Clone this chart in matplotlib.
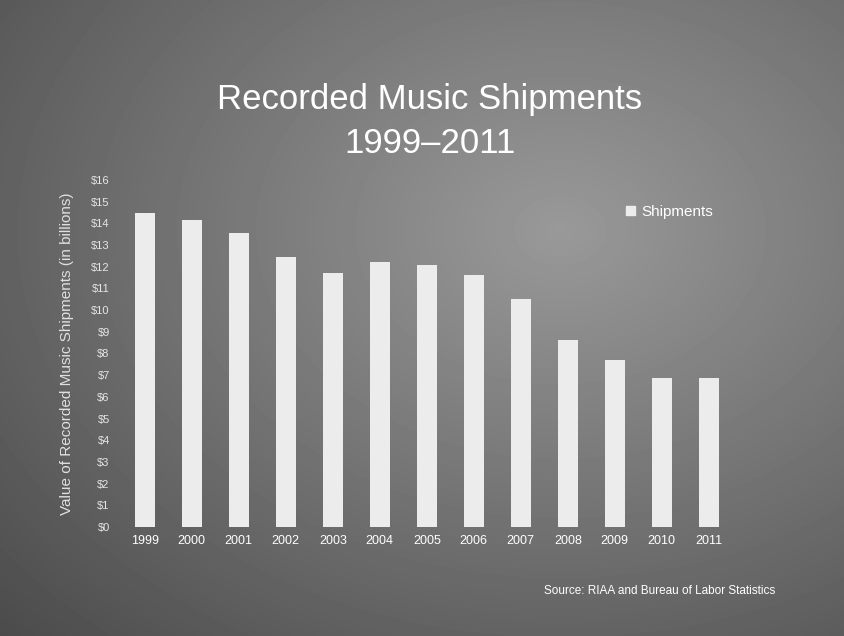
import numpy as np
import matplotlib
matplotlib.use("Agg")
import matplotlib.pyplot as plt
from matplotlib.patches import Patch

plt.rcParams['font.family'] = ['Liberation Sans', 'DejaVu Sans']

years = ['1999', '2000', '2001', '2002', '2003', '2004', '2005',
         '2006', '2007', '2008', '2009', '2010', '2011']
shipments = [14.5, 14.15, 13.55, 12.45, 11.7, 12.2, 12.1,
             11.6, 10.5, 8.6, 7.7, 6.85, 6.85]
y_ticks = list(range(0, 17))
y_tick_labels = [f'${v}' for v in y_ticks]

W, H = 844, 636
fig = plt.figure(figsize=(W / 100, H / 100), dpi=100)

# gray slide background with a soft light spot
bg = fig.add_axes([0, 0, 1, 1])
yy, xx = np.mgrid[0:H, 0:W]
d = np.sqrt(((xx - 560) / 560.0) ** 2 + ((yy - 230) / 420.0) ** 2)
shade = 0.60 - 0.22 * np.clip(d, 0, 1.4)
bg.imshow(shade, cmap='gray', vmin=0, vmax=1, aspect='auto',
          extent=[0, W, H, 0], interpolation='bilinear')
bg.set_xlim(0, W)
bg.set_ylim(H, 0)
bg.axis('off')

ax = fig.add_axes([118 / W, (H - 527) / H, (737 - 118) / W, 347 / H])
ax.patch.set_alpha(0)
x = np.arange(len(years))
ax.bar(x, shipments, width=0.43, color='#ececec', edgecolor='none',
       label='Shipments')
ax.set_xlim(-0.57, 12.6)
ax.set_ylim(0, 16)
ax.set_xticks(x)
ax.set_xticklabels(years, color='white', fontsize=9)
ax.set_yticks(y_ticks)
ax.set_yticklabels(y_tick_labels, color='#e6e6e6', fontsize=8)
ax.tick_params(length=0, pad=6)
for s in ax.spines.values():
    s.set_visible(False)
ax.set_ylabel('Value of Recorded Music Shipments (in billions)',
              color='#e0e0e0', fontsize=11, labelpad=12)

fig.text(430 / W, 1 - 100 / H, 'Recorded Music Shipments', color='white',
         fontsize=25, ha='center', va='center')
fig.text(430 / W, 1 - 144 / H, '1999\u20132011', color='white',
         fontsize=25, ha='center', va='center')

fig.legend(handles=[Patch(color='#ececec', label='Shipments')],
           loc='center left', bbox_to_anchor=(612 / W, 1 - 212 / H),
           frameon=False, fontsize=11, labelcolor='white',
           handlelength=0.6, handleheight=0.6, handletextpad=0.4)

fig.text(775 / W, 1 - 591 / H, 'Source: RIAA and Bureau of Labor Statistics',
         color='white', fontsize=8.5, ha='right', va='center')

fig.savefig('out.png', dpi=100)
